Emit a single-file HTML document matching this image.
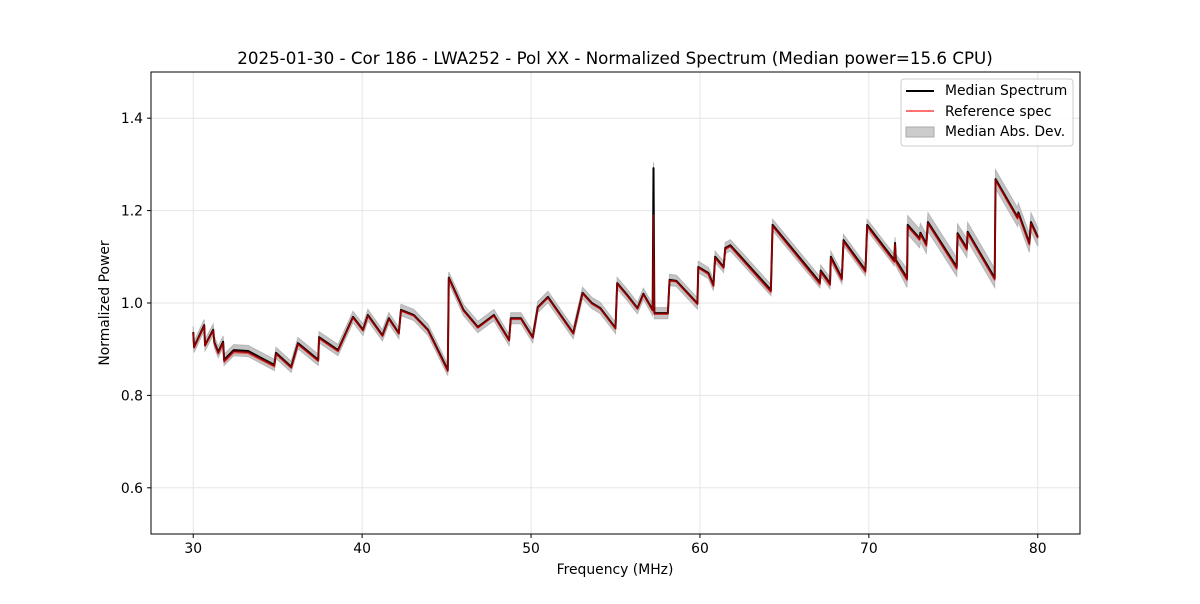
<!DOCTYPE html>
<html><head><meta charset="utf-8"><style>
body{margin:0;background:#fff;font-family:"DejaVu Sans","Liberation Sans",sans-serif}
svg text{font-family:"DejaVu Sans","Liberation Sans",sans-serif}
</style></head><body>
<svg id="c" width="1200" height="600" xmlns="http://www.w3.org/2000/svg">
<rect width="1200" height="600" fill="#fff"/>
<text x="615" y="64" font-size="16.7" text-anchor="middle">2025-01-30 - Cor 186 - LWA252 - Pol XX - Normalized Spectrum (Median power=15.6 CPU)</text>
<g id="grid"></g><g id="band"></g><g id="lines"></g><g id="ticks"></g>
<rect x="151" y="72" width="929" height="462" fill="none" stroke="#000" stroke-width="1"/>
<text x="615" y="574" font-size="13.9" text-anchor="middle">Frequency (MHz)</text>
<text x="0" y="0" font-size="13.9" text-anchor="middle" transform="translate(109,303) rotate(-90)">Normalized Power</text>
<g>
<rect x="901" y="79" width="172" height="67" rx="3" fill="#fff" fill-opacity="0.8" stroke="#ccc"/>
<line x1="906" y1="91" x2="934" y2="91" stroke="#000" stroke-width="2"/>
<text x="945" y="95" font-size="13.9">Median Spectrum</text>
<line x1="906" y1="111" x2="934" y2="111" stroke="#f44" stroke-width="1.5"/>
<text x="945" y="116" font-size="13.9">Reference spec</text>
<rect x="906" y="127" width="28" height="10" fill="#ccc" stroke="#aaa"/>
<text x="945" y="136" font-size="13.9">Median Abs. Dev.</text>
</g>
</svg>
<script>
const freqs=[30,30.05,30.65,30.7,31.18,31.25,31.48,31.77,31.83,32.4,33.25,34.8,34.9,35.8,36.2,37.4,37.45,38.57,39.46,40.05,40.34,41.2,41.58,42.17,42.3,43.06,43.9,45.07,45.13,46.0,46.85,47.8,48.7,48.8,49.4,50.1,50.4,51,52.5,53.05,53.6,54.1,55.0,55.1,55.7,56.3,56.65,57.2,57.25,57.3,58.1,58.2,58.6,59.85,59.9,60.5,60.8,60.9,61.4,61.5,61.8,64.2,64.3,67.1,67.15,67.7,67.75,68.4,68.5,69.8,69.9,71.5,71.55,71.6,72.26,72.3,73.0,73.05,73.4,73.5,75.2,75.25,75.8,75.85,77.45,77.5,78.8,78.85,79.5,79.6,80];
const median=[0.937,0.905,0.952,0.909,0.942,0.915,0.894,0.916,0.877,0.898,0.896,0.866,0.892,0.862,0.913,0.877,0.926,0.898,0.97,0.942,0.974,0.93,0.967,0.935,0.985,0.974,0.942,0.855,1.055,0.985,0.948,0.974,0.92,0.967,0.967,0.926,0.991,1.013,0.935,1.022,1.0,0.989,0.946,1.043,1.017,0.989,1.02,0.985,1.292,0.978,0.978,1.05,1.048,0.999,1.078,1.065,1.039,1.1,1.078,1.119,1.125,1.028,1.169,1.045,1.07,1.043,1.1,1.054,1.136,1.071,1.169,1.093,1.13,1.093,1.054,1.169,1.14,1.152,1.128,1.175,1.078,1.151,1.119,1.154,1.054,1.268,1.186,1.196,1.13,1.175,1.143];
const reference=[0.935,0.903,0.95,0.907,0.94,0.913,0.89,0.912,0.872,0.893,0.891,0.862,0.889,0.859,0.91,0.874,0.923,0.895,0.968,0.94,0.972,0.928,0.965,0.933,0.983,0.972,0.94,0.852,1.053,0.983,0.946,0.972,0.918,0.965,0.965,0.924,0.989,1.011,0.933,1.02,0.998,0.987,0.944,1.041,1.015,0.987,1.018,0.983,1.089,0.976,0.976,1.048,1.046,0.997,1.076,1.062,1.036,1.097,1.075,1.116,1.122,1.023,1.166,1.04,1.066,1.038,1.096,1.049,1.132,1.066,1.165,1.088,1.125,1.088,1.049,1.165,1.136,1.148,1.123,1.171,1.073,1.147,1.114,1.15,1.05,1.265,1.182,1.192,1.126,1.171,1.14];
const mad=freqs.map((f,i)=>0.012);
const xTicks=[30,40,50,60,70,80];
const yTicks=[0.6,0.8,1.0,1.2,1.4];
const yTickLabels=["0.6","0.8","1.0","1.2","1.4"];
const NS='http://www.w3.org/2000/svg';
const X=f=>151+(f-27.5)/55*929;
const Y=v=>534-(v-0.5)/1.0*462;
function mk(tag,attrs,parent){const e=document.createElementNS(NS,tag);for(const k in attrs)e.setAttribute(k,attrs[k]);document.getElementById(parent).appendChild(e);return e;}
xTicks.forEach(t=>{
 const g=mk('line',{x1:X(t),x2:X(t),y1:72,y2:534,stroke:'#e5e5e5'},'grid');
 
 
 mk('line',{x1:X(t),x2:X(t),y1:534,y2:538,stroke:'#000'},'ticks');
 const tx=mk('text',{x:X(t),y:553,'font-size':13.9,'text-anchor':'middle'},'ticks');tx.textContent=t;
 
 
});
yTicks.forEach((t,i)=>{
 const g=mk('line',{x1:151,x2:1080,y1:Y(t),y2:Y(t),stroke:'#e5e5e5'},'grid');
 
 
 mk('line',{x1:147,x2:151,y1:Y(t),y2:Y(t),stroke:'#000'},'ticks');
 const tx=mk('text',{x:143,y:Y(t)+5,'font-size':13.9,'text-anchor':'end'},'ticks');tx.textContent=yTickLabels[i];
 
 
});
let up=freqs.map((f,i)=>X(f)+','+Y(median[i]+mad[i]+(f>72?0.008:0))).join(' ');
let dn=freqs.map((f,i)=>X(f)+','+Y(median[i]-mad[i]-(f>72?0.008:0))).reverse().join(' ');
const band=mk('polygon',{points:up+' '+dn,fill:'#c4c4c4',stroke:'#b5b5b5','stroke-width':1},'band');


const ml=mk('polyline',{points:freqs.map((f,i)=>X(f)+','+Y(median[i])).join(' '),fill:'none',stroke:'#000','stroke-width':2,'stroke-linejoin':'round'},'lines');


const rl=mk('polyline',{points:freqs.map((f,i)=>X(f)+','+Y(reference[i])).join(' '),fill:'none',stroke:'#f00','stroke-opacity':0.55,'stroke-width':1.8,'stroke-linejoin':'round'},'lines');


const rl2=mk('polyline',{points:freqs.map((f,i)=>X(f)+','+Y((reference[i]+median[i])/2)).join(' '),fill:'none',stroke:'#8b0000','stroke-width':1.5,'stroke-linejoin':'round'},'lines');


</script>
</body></html>
